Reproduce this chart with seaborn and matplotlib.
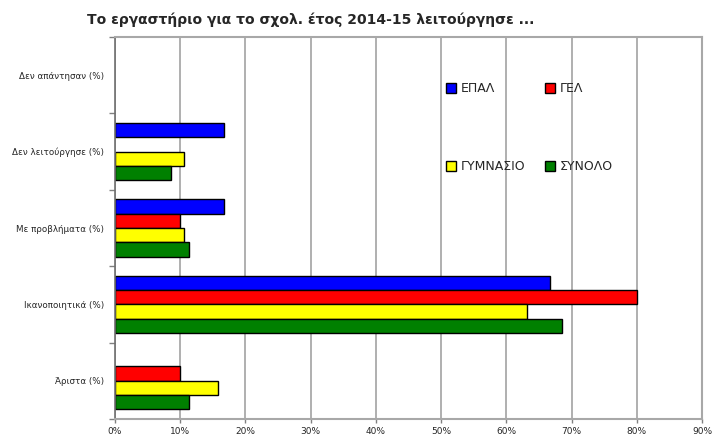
"""Horizontal grouped bars: lab operation for school year 2014-15."""
import matplotlib
matplotlib.use("Agg")
import matplotlib.pyplot as plt
import numpy as np
import pandas as pd
import seaborn as sns
from matplotlib.lines import Line2D
from matplotlib.ticker import FixedLocator

# Data (percent)
categories = [
    "Δεν απάντησαν (%)",
    "Δεν λειτούργησε (%)",
    "Με προβλήματα (%)",
    "Ικανοποιητικά (%)",
    "Άριστα (%)",
]
series = ["ΕΠΑΛ", "ΓΕΛ", "ΓΥΜΝΑΣΙΟ", "ΣΥΝΟΛΟ"]
epal = [0, 16.7, 16.7, 66.7, 0]
gel = [0, 0, 10.0, 80.0, 10.0]
gymnasio = [0, 10.5, 10.5, 63.2, 15.8]
synolo = [0, 8.6, 11.4, 68.6, 11.4]
colors = ["#0000ff", "#ff0000", "#ffff00", "#008000"]

# Long format for seaborn
df = pd.DataFrame({
    "category": categories * 4,
    "value": epal + gel + gymnasio + synolo,
    "school": np.repeat(series, len(categories)),
})

sns.set_style("white")
plt.rcParams["font.family"] = ["DejaVu Sans"]

fig, ax = plt.subplots(figsize=(7.18, 4.38), dpi=100)
fig.subplots_adjust(left=0.1602, right=0.9777, top=0.9155, bottom=0.0434)

# Grid first so bars sit on top
ax.set_axisbelow(True)
ax.xaxis.grid(True, color="#9a9a9a", linewidth=1.1)

sns.barplot(
    data=df,
    y="category",
    x="value",
    hue="school",
    order=categories,
    hue_order=series,
    palette=colors,
    saturation=1,
    orient="h",
    width=0.75,
    gap=0,
    edgecolor="black",
    linewidth=1,
    legend=False,
    ax=ax,
)

# Zero-length bars leave an outline at x=0; hide them
for p in ax.patches:
    if p.get_width() == 0:
        p.set_visible(False)

ax.set_xlim(0, 90)
ax.set_xticks(np.arange(0, 91, 10))
ax.set_xticklabels([f"{v}%" for v in range(0, 91, 10)], fontsize=6.5)
ax.set_ylim(len(categories) - 0.5, -0.5)
ax.set_xlabel("")
ax.set_ylabel("")
ax.tick_params(axis="y", which="major", left=True, length=0, labelsize=6.3, pad=8)
ax.yaxis.set_minor_locator(FixedLocator(np.arange(-0.5, len(categories), 1)))
ax.tick_params(axis="y", which="minor", left=True, length=4, width=1,
               color="#808080", direction="out")
ax.tick_params(axis="x", bottom=True, length=3, width=1, color="#808080",
               direction="out", pad=3)

for side in ["top", "right", "bottom"]:
    ax.spines[side].set_color("#a8a8a8")
    ax.spines[side].set_linewidth(1.5)
ax.spines["left"].set_color("#707070")
ax.spines["left"].set_linewidth(1.2)

# Legend: two rows, ΕΠΑΛ/ΓΕΛ and ΓΥΜΝΑΣΙΟ/ΣΥΝΟΛΟ
handles = [
    Line2D([], [], linestyle="", marker="s", markersize=6.5,
           markerfacecolor=c, markeredgecolor="black", markeredgewidth=1)
    for c in colors
]
order = [0, 2, 1, 3]
ax.legend(
    [handles[i] for i in order],
    [series[i] for i in order],
    ncol=2,
    loc="upper left",
    bbox_to_anchor=(440 / 718, 1 - 76 / 438),
    bbox_transform=fig.transFigure,
    frameon=False,
    fontsize=9,
    handlelength=0.8,
    handletextpad=0.35,
    columnspacing=1.6,
    labelspacing=5.2,
    borderpad=0,
)

fig.text(
    87 / 718, 1 - 20 / 438,
    "Το εργαστήριο για το σχολ. έτος 2014-15 λειτούργησε ...",
    fontsize=10, fontweight="bold", va="center", ha="left",
)

fig.savefig("out.png", dpi=100)
